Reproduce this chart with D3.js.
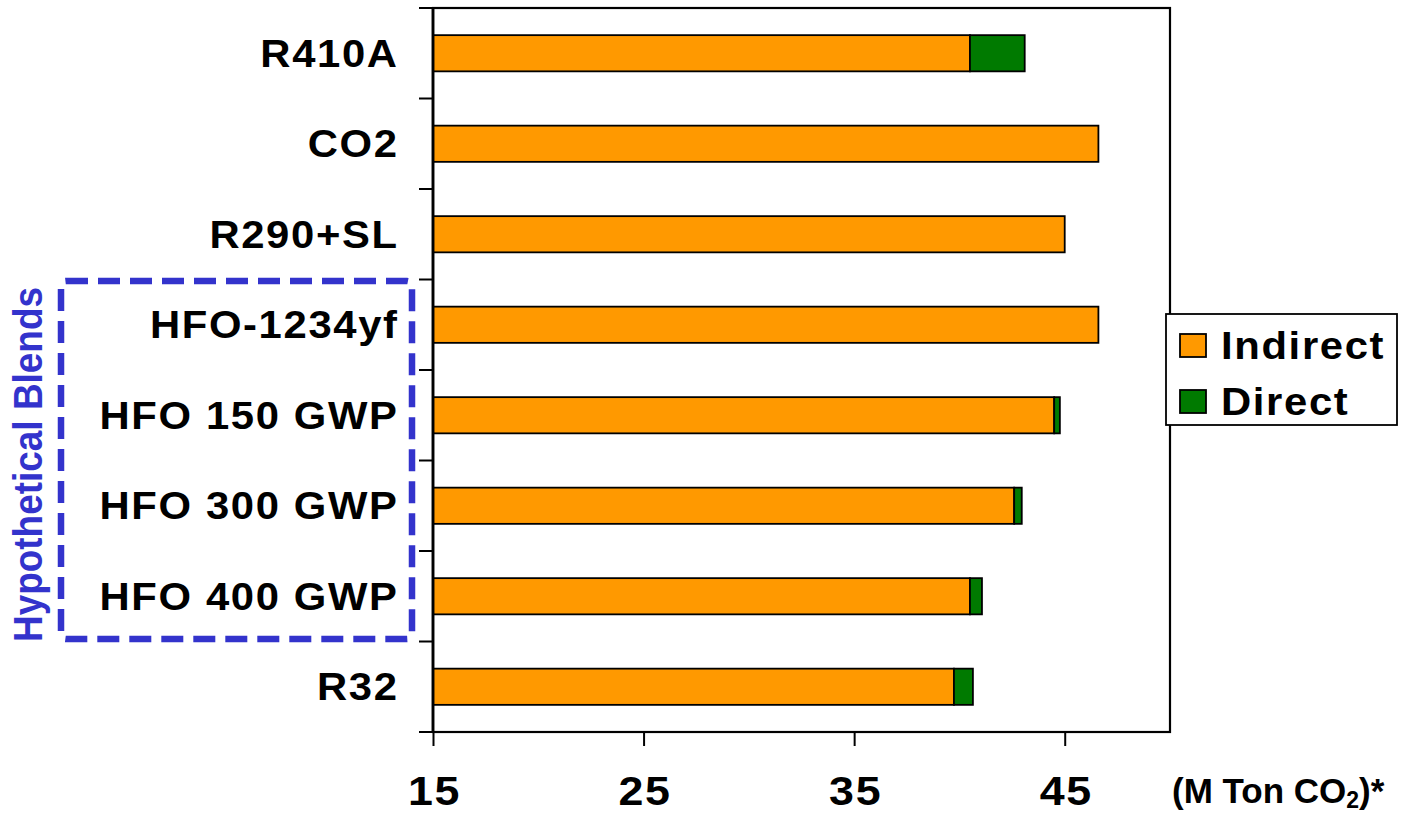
<!DOCTYPE html>
<html><head><meta charset="utf-8">
<script src="https://cdn.jsdelivr.net/npm/d3@7"></script>
<style>body{margin:0;background:#fff}svg{display:block}text{font-family:"Liberation Sans",Arial,sans-serif;font-weight:bold}</style>
</head><body>
<svg id="c" width="1401" height="814"></svg>
<script>
const categories = ["R410A","CO2","R290+SL","HFO-1234yf","HFO 150 GWP","HFO 300 GWP","HFO 400 GWP","R32"];
const indirect = [40.5, 46.6, 45.0, 46.6, 44.5, 42.6, 40.5, 39.74];
const direct   = [2.6, 0, 0, 0, 0.27, 0.36, 0.57, 0.9];
const xTicks = [15, 25, 35, 45];
const xDomain = [15, 50];
const seriesNames = ["Indirect","Direct"];
const colors = {Indirect:"#FF9900", Direct:"#007A00"};

const svg = d3.select("#c");
const L = 433, R = 1170, T = 8, B = 732;
const SX = 1.1, LS = 1.5;
const x = d3.scaleLinear().domain(xDomain).range([L, R]);
const y = d3.scaleBand().domain(categories).range([T, B]).padding(0);
const barH = y.bandwidth() * 0.4;

// bars
const g = svg.append("g");
categories.forEach((c, i) => {
  const yc = y(c) + y.bandwidth()/2 - barH/2;
  g.append("rect").attr("x", x(15)).attr("y", yc)
    .attr("width", x(indirect[i]) - x(15)).attr("height", barH)
    .attr("fill", colors.Indirect).attr("stroke", "#000").attr("stroke-width", 1.8);
  if (direct[i] > 0) {
    g.append("rect").attr("x", x(indirect[i])).attr("y", yc)
      .attr("width", x(indirect[i] + direct[i]) - x(indirect[i])).attr("height", barH)
      .attr("fill", colors.Direct).attr("stroke", "#000").attr("stroke-width", 1.8);
  }
});

// plot frame
svg.append("rect").attr("x", L).attr("y", T).attr("width", R - L).attr("height", B - T)
  .attr("fill", "none").attr("stroke", "#000").attr("stroke-width", 2.2);
svg.append("line").attr("x1", L).attr("x2", L).attr("y1", T).attr("y2", B)
  .attr("stroke", "#000").attr("stroke-width", 2.8);

// y-axis ticks at band boundaries
const bounds = categories.map(c => y(c)).concat([B]);
svg.selectAll(".yt").data(bounds).enter().append("line")
  .attr("x1", L - 14).attr("x2", L).attr("y1", d => d).attr("y2", d => d)
  .attr("stroke", "#000").attr("stroke-width", 2);

// category labels
svg.selectAll(".cl").data(categories).enter().append("text")
  .attr("transform", d => `translate(${397 + LS*SX},${y(d) + y.bandwidth()/2 + 13.5}) scale(${SX},1)`)
  .attr("text-anchor", "end").attr("font-size", 38).attr("letter-spacing", LS)
  .attr("fill", "#000").text(d => d);

// x axis ticks
const xa = svg.append("g").attr("transform", `translate(0,${B})`)
  .call(d3.axisBottom(x).tickValues(xTicks).tickSize(14).tickFormat(d3.format("d")));
xa.select(".domain").remove();
xa.selectAll(".tick line").attr("stroke", "#000").attr("stroke-width", 2);
xa.selectAll(".tick text").attr("y", null).attr("dy", null)
  .attr("transform", `translate(1,${805 - B}) scale(1.12,1)`)
  .attr("font-size", 40).attr("letter-spacing", 1.5)
  .attr("fill", "#000").attr("font-family", '"Liberation Sans",Arial,sans-serif')
  .attr("font-weight", "bold");

// axis unit title
const ut = svg.append("text").attr("transform", "translate(1172,803)")
  .attr("font-size", 35).attr("fill", "#000");
ut.append("tspan").text("(M Ton CO");
ut.append("tspan").attr("font-size", 23).attr("dy", 5).text("2");
ut.append("tspan").attr("dy", -5).text(")*");

// legend
const lg = svg.append("g");
lg.append("rect").attr("x", 1166).attr("y", 314).attr("width", 231).attr("height", 111)
  .attr("fill", "#fff").attr("stroke", "#000").attr("stroke-width", 1.8);
seriesNames.forEach((s, i) => {
  lg.append("rect").attr("x", 1180).attr("y", 334 + i * 56).attr("width", 26).attr("height", 23)
    .attr("fill", colors[s]).attr("stroke", "#000").attr("stroke-width", 1.8);
  lg.append("text").attr("transform", `translate(1221,${359 + i * 56}) scale(${SX},1)`)
    .attr("font-size", 38).attr("letter-spacing", LS).attr("fill", "#000").text(s);
});

// hypothetical blends box
svg.append("rect").attr("x", 61).attr("y", 281).attr("width", 351).attr("height", 358)
  .attr("rx", 5).attr("fill", "none").attr("stroke", "#3333CC").attr("stroke-width", 6.5)
  .attr("stroke-dasharray", "22 10");
svg.append("text").attr("transform", "translate(42,642) rotate(-90) scale(1,1.08)")
  .attr("font-size", 37).attr("fill", "#3333CC").attr("textLength", 355)
  .attr("lengthAdjust", "spacingAndGlyphs").text("Hypothetical Blends");
</script>
</body></html>
